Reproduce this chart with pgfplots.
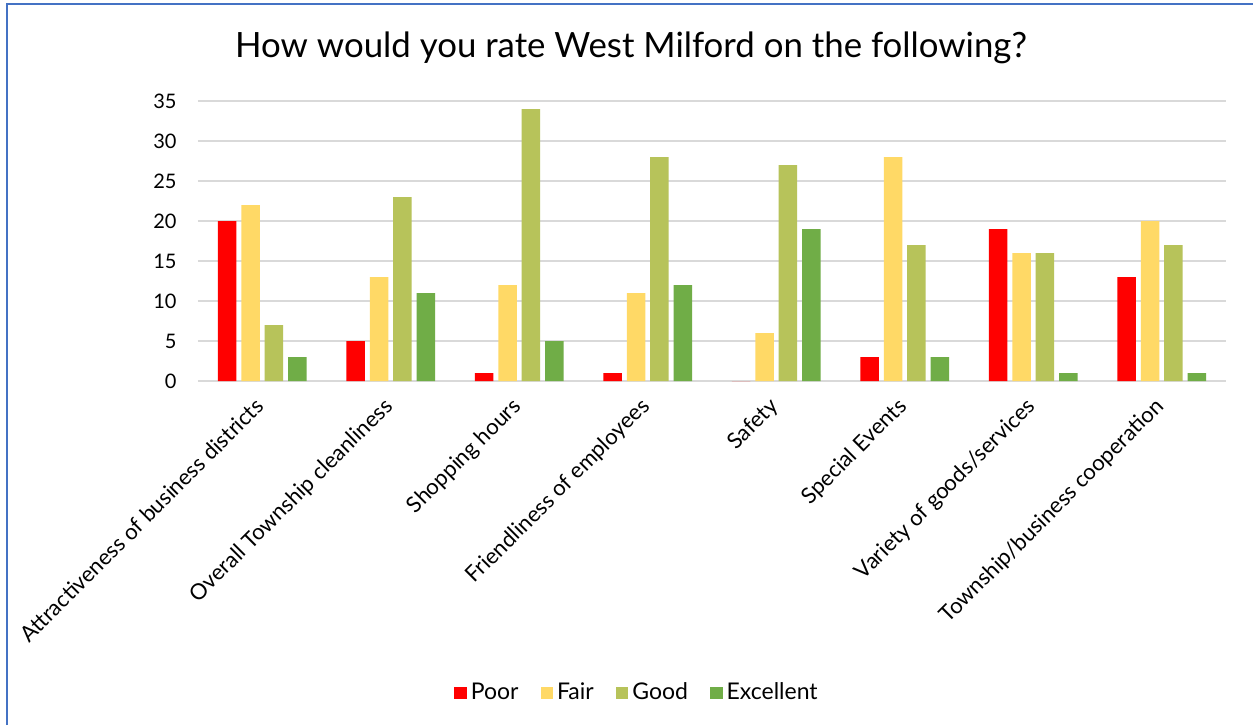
\documentclass[border=0pt]{standalone}
\usepackage{pgfplots}
\pgfplotsset{compat=1.18}
\usepackage{fontspec}
\setmainfont{Lato}
\definecolor{cPoor}{HTML}{FF0000}
\definecolor{cFair}{HTML}{FFD966}
\definecolor{cGood}{HTML}{B7C35A}
\definecolor{cExc}{HTML}{70AD47}
\definecolor{cGrid}{HTML}{D9D9D9}
\definecolor{cBorder}{HTML}{4472C4}
\begin{document}
\begin{tikzpicture}[x=1pt,y=1pt]
\path[use as bounding box] (0,0) rectangle (626.5,362.5);
\fill[white] (0,0) rectangle (626.5,362.5);
\draw[cBorder,line width=1pt] (3.3,0) -- (3.3,360.5) -- (626.5,360.5);
\node[font=\fontsize{17.4}{21}\selectfont] at (315.5,338.5) {How would you rate West Milford on the following?};
\begin{axis}[
  at={(99pt,172pt)}, anchor=south west,
  scale only axis, width=514pt, height=140pt,
  ybar=2.45pt, bar width=9.25pt,
  xmin=-0.5, xmax=7.5, ymin=0, ymax=35,
  xtick=data,
  xticklabels={Attractiveness of business districts,Overall Township cleanliness,Shopping hours,Friendliness of employees,Safety,Special Events,Variety of goods/services,Township/business cooperation},
  ytick={0,5,...,35},
  ymajorgrids, grid style={cGrid,line width=1pt},
  axis line style={draw=none},
  major tick length=0pt,
  /pgf/number format/assume math mode=true,
  yticklabel style={font=\fontsize{10}{12}\selectfont, anchor=east, inner sep=0pt, xshift=-10.5pt},
  xticklabel style={font=\fontsize{11}{13}\selectfont, rotate=45, anchor=north east, inner sep=0pt, yshift=-2.25pt, xshift=-8.25pt},
  legend columns=4,
  legend style={at={(0.428,-1.114)}, anchor=center, draw=none, fill=none,
    font=\fontsize{11.5}{13}\selectfont, /tikz/every even column/.append style={column sep=9pt}},
  legend image code/.code={\fill[#1] (0pt,-3.15pt) rectangle (6.3pt,3.15pt);},
]
\addplot[fill=cPoor, draw=none] coordinates {(0,20) (1,5) (2,1) (3,1) (4,0) (5,3) (6,19) (7,13)};
\addplot[fill=cFair, draw=none] coordinates {(0,22) (1,13) (2,12) (3,11) (4,6) (5,28) (6,16) (7,20)};
\addplot[fill=cGood, draw=none] coordinates {(0,7) (1,23) (2,34) (3,28) (4,27) (5,17) (6,16) (7,17)};
\addplot[fill=cExc, draw=none] coordinates {(0,3) (1,11) (2,5) (3,12) (4,19) (5,3) (6,1) (7,1)};
\legend{Poor,Fair,Good,Excellent}
\end{axis}
\end{tikzpicture}
\end{document}
